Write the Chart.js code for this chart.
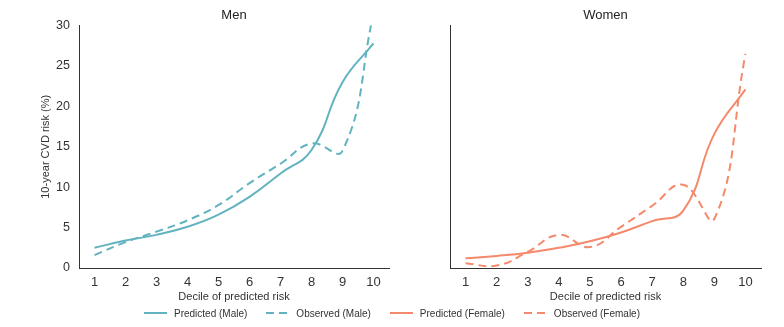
<!DOCTYPE html>
<html>
<head>
<meta charset="utf-8">
<script src="https://cdn.jsdelivr.net/npm/chart.js@4"></script>
<style>
  html, body { margin: 0; padding: 0; background: #fff; }
  body { width: 784px; height: 327px; position: relative; overflow: hidden; font-family: "Liberation Sans", Arial, sans-serif; }
  .panel { position: absolute; top: 0; height: 305px; }
  #left { left: 0; width: 400px; }
  #right { left: 400px; width: 384px; }
  #legend { position: absolute; left: 0; top: 304px; width: 784px; height: 18px; display: flex; justify-content: center; align-items: center; font-size: 10px; color: #333; }
  .item { display: flex; align-items: center; margin: 0 9.5px; }
  .item svg { margin-right: 7px; }
</style>
</head>
<body>
<div class="panel" id="left"><canvas id="menChart"></canvas></div>
<div class="panel" id="right"><canvas id="womenChart"></canvas></div>
<div id="legend"></div>
<script>
  // deciles of predicted risk
  var deciles = ["1", "2", "3", "4", "5", "6", "7", "8", "9", "10"];
  var yTicks = [0, 5, 10, 15, 20, 25, 30];

  // 10-year CVD risk (%) per decile
  var predictedMale = [2.5, 3.4, 4.1, 5.1, 6.6, 8.8, 11.7, 14.6, 23.0, 27.8];
  var observedMale = [1.6, 3.2, 4.5, 5.9, 7.8, 10.5, 12.9, 15.4, 14.5, 31.5];
  var predictedFemale = [1.2, 1.5, 1.9, 2.5, 3.3, 4.4, 5.8, 7.1, 16.6, 22.1];
  var observedFemale = [0.6, 0.3, 2.0, 4.1, 2.6, 5.1, 7.7, 10.3, 6.1, 26.5];

  var teal = "#62b3c0";
  var orange = "#f5896b";
  var axisColor = "#333333";
  var fontFamily = "'Liberation Sans', Arial, sans-serif";

  function lineSet(label, data, color, dashed) {
    return {
      label: label,
      data: data,
      borderColor: color,
      backgroundColor: color,
      borderWidth: 2,
      borderDash: dashed ? [8, 5] : [],
      pointRadius: 0,
      tension: 0.45,
      fill: false
    };
  }

  function makeChart(id, title, datasets, showY, pad) {
    var ctx = document.getElementById(id).getContext("2d");
    return new Chart(ctx, {
      type: "line",
      data: { labels: deciles, datasets: datasets },
      options: {
        responsive: true,
        maintainAspectRatio: false,
        animation: false,
        layout: { padding: pad },
        plugins: {
          legend: { display: false },
          tooltip: { enabled: false },
          title: {
            display: true,
            text: title,
            color: "#222",
            fullSize: false,
            font: { family: fontFamily, size: 13, weight: "normal" },
            padding: { top: 8, bottom: 2 }
          }
        },
        scales: {
          x: {
            offset: true,
            grid: { display: false, drawTicks: false },
            border: { display: true, color: axisColor, width: 1 },
            ticks: {
              color: "#333",
              autoSkip: false,
              maxRotation: 0,
              padding: 7,
              font: { family: fontFamily, size: 13 }
            },
            title: {
              display: true,
              text: "Decile of predicted risk",
              color: "#333",
              font: { family: fontFamily, size: 11 },
              padding: { top: 0, bottom: 1 }
            },
            afterFit: function (scale) { scale.height = 37; }
          },
          y: {
            min: 0,
            max: 30,
            grid: { display: false, drawTicks: false },
            border: { display: true, color: axisColor, width: 1 },
            afterBuildTicks: function (scale) {
              scale.ticks = yTicks.map(function (v) { return { value: v }; });
            },
            ticks: {
              display: showY,
              color: "#333",
              padding: 9,
              font: { family: fontFamily, size: 12.5 }
            },
            title: {
              display: showY,
              text: "10-year CVD risk (%)",
              color: "#333",
              font: { family: fontFamily, size: 11 },
              padding: { top: 39, bottom: 0 }
            },
            afterFit: function (scale) { scale.width = showY ? 79 : 50; }
          }
        }
      }
    });
  }

  makeChart("menChart", "Men", [
    lineSet("Predicted (Male)", predictedMale, teal, false),
    lineSet("Observed (Male)", observedMale, teal, true)
  ], true, { left: 0, right: 11, top: 0, bottom: 0 });

  makeChart("womenChart", "Women", [
    lineSet("Predicted (Female)", predictedFemale, orange, false),
    lineSet("Observed (Female)", observedFemale, orange, true)
  ], false, { left: 0, right: 23, top: 0, bottom: 0 });

  // shared legend below both panels
  var legendItems = [
    { label: "Predicted (Male)", color: teal, dashed: false },
    { label: "Observed (Male)", color: teal, dashed: true },
    { label: "Predicted (Female)", color: orange, dashed: false },
    { label: "Observed (Female)", color: orange, dashed: true }
  ];
  var legend = document.getElementById("legend");
  legendItems.forEach(function (it) {
    var el = document.createElement("div");
    el.className = "item";
    el.innerHTML = '<svg width="23" height="6"><line x1="0" y1="3" x2="23" y2="3" stroke="' + it.color +
      '" stroke-width="2"' + (it.dashed ? ' stroke-dasharray="8,5"' : "") + '/></svg><span>' + it.label + "</span>";
    legend.appendChild(el);
  });
</script>
</body>
</html>
